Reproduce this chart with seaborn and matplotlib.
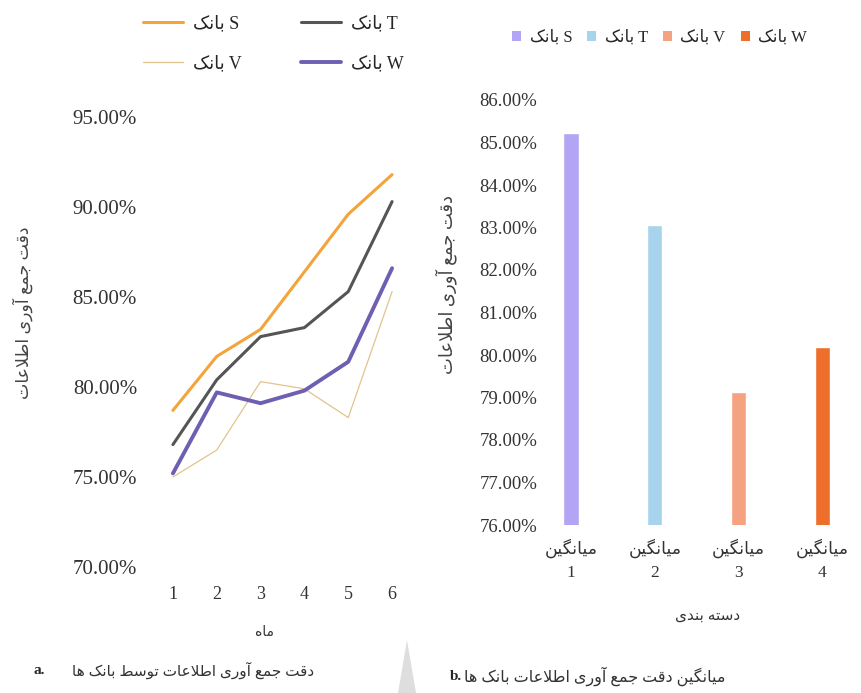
import numpy as np
import pandas as pd
import matplotlib
matplotlib.use("Agg")
import matplotlib.pyplot as plt
import seaborn as sns
from matplotlib.lines import Line2D
from matplotlib.patches import Patch, Polygon
from matplotlib.ticker import PercentFormatter

# ---- data ----
months = [1, 2, 3, 4, 5, 6]
bank_s = [78.7, 81.7, 83.2, 86.4, 89.6, 91.8]
bank_t = [76.8, 80.4, 82.8, 83.3, 85.3, 90.3]
bank_v = [75.0, 76.5, 80.3, 79.9, 78.3, 85.3]
bank_w = [75.2, 79.7, 79.1, 79.8, 81.4, 86.6]
bank_names = ["S", "T", "V", "W"]

bar_values = [85.22, 83.06, 79.14, 80.19]
bar_numbers = ["1", "2", "3", "4"]

line_colors = {"S": "#f3a43a", "T": "#555555", "V": "#e2c48a", "W": "#6f5fb3"}
line_widths = {"S": 2.2, "T": 2.2, "V": 0.9, "W": 2.8}
bar_colors = ["#b3a5f3", "#a7d4ec", "#f4a27f", "#ee6e2c"]

# ---- minimal Persian shaping (matplotlib has no complex text layout) ----
FORMS = {
    "ا": ("\uFE8D", "\uFE8E", None, None),
    "آ": ("\uFE81", "\uFE82", None, None),
    "ب": ("\uFE8F", "\uFE90", "\uFE91", "\uFE92"),
    "ت": ("\uFE95", "\uFE96", "\uFE97", "\uFE98"),
    "ج": ("\uFE9D", "\uFE9E", "\uFE9F", "\uFEA0"),
    "د": ("\uFEA9", "\uFEAA", None, None),
    "ر": ("\uFEAD", "\uFEAE", None, None),
    "س": ("\uFEB1", "\uFEB2", "\uFEB3", "\uFEB4"),
    "ط": ("\uFEC1", "\uFEC2", "\uFEC3", "\uFEC4"),
    "ع": ("\uFEC9", "\uFECA", "\uFECB", "\uFECC"),
    "ق": ("\uFED5", "\uFED6", "\uFED7", "\uFED8"),
    "ل": ("\uFEDD", "\uFEDE", "\uFEDF", "\uFEE0"),
    "م": ("\uFEE1", "\uFEE2", "\uFEE3", "\uFEE4"),
    "ن": ("\uFEE5", "\uFEE6", "\uFEE7", "\uFEE8"),
    "ه": ("\uFEE9", "\uFEEA", "\uFEEB", "\uFEEC"),
    "و": ("\uFEED", "\uFEEE", None, None),
    "ک": ("\uFB8E", "\uFB8F", "\uFB90", "\uFB91"),
    "گ": ("\uFB92", "\uFB93", "\uFB94", "\uFB95"),
    "ی": ("\uFBFC", "\uFBFD", "\uFBFE", "\uFBFF"),
}


def links_forward(c):
    return c in FORMS and FORMS[c][2] is not None


def fa(text):
    out = []
    i = 0
    n = len(text)
    while i < n:
        c = text[i]
        if c not in FORMS:
            out.append(c)
            i += 1
            continue
        link_prev = i > 0 and links_forward(text[i - 1])
        if c == "ل" and i + 1 < n and text[i + 1] == "ا":
            out.append("\uFEFC" if link_prev else "\uFEFB")
            i += 2
            continue
        link_next = links_forward(c) and i + 1 < n and text[i + 1] in FORMS
        iso, fin, ini, med = FORMS[c]
        if link_prev and link_next:
            out.append(med)
        elif link_prev:
            out.append(fin)
        elif link_next:
            out.append(ini)
        else:
            out.append(iso)
        i += 1
    return "".join(reversed(out))


bank_word = fa("بانک")
acc_label = fa("دقت جمع آوری اطلاعات")
month_label = fa("ماه")
group_label = fa("دسته بندی")
bar_ticks = [fa("میانگین") + "\n" + k for k in bar_numbers]
caption_a = fa("دقت جمع آوری اطلاعات توسط بانک ها")
caption_b = fa("میانگین دقت جمع آوری اطلاعات بانک ها")

df = pd.DataFrame({
    "month": months * 4,
    "acc": bank_s + bank_t + bank_v + bank_w,
    "bank": [b for b in bank_names for _ in months],
})

sns.set_theme(style="white")
plt.rcParams["font.family"] = ["Liberation Serif", "DejaVu Sans"]

W, H = 861, 693
fig = plt.figure(figsize=(W / 100, H / 100), dpi=100)
fig.patch.set_facecolor("white")

# ---- a. line chart ----
ax1 = fig.add_axes([151 / W, 1 - 567 / H, 263 / W, 450 / H])
sns.lineplot(data=df, x="month", y="acc", hue="bank", size="bank",
             palette=line_colors, sizes=line_widths, legend=False, ax=ax1)
ax1.set_xlim(0.5, 6.5)
ax1.set_ylim(70, 95)
ax1.set_yticks([70, 75, 80, 85, 90, 95])
ax1.set_xticks(months)
ax1.yaxis.set_major_formatter(PercentFormatter(decimals=2))
ax1.tick_params(axis="y", length=0, pad=10, labelsize=15, labelcolor="#333333")
ax1.tick_params(axis="x", length=0, pad=14, labelsize=13, labelcolor="#333333")
sns.despine(ax=ax1, left=True, bottom=True)
ax1.set_xlabel(month_label, fontsize=10, color="#333333")
ax1.set_ylabel(acc_label, fontsize=12.5, color="#444444")
ax1.xaxis.set_label_coords(0.43, -0.13)
ax1.yaxis.set_label_coords(-0.45, 0.566)

handles = [Line2D([], [], color=line_colors[b], lw=line_widths[b]) for b in bank_names]
labels = [bank_word + " " + b for b in bank_names]
order = [0, 2, 1, 3]
fig.legend([handles[i] for i in order], [labels[i] for i in order],
           ncol=2, loc="center left", bbox_to_anchor=(143 / W, 1 - 44 / H),
           frameon=False, fontsize=13, handlelength=2.2, handletextpad=0.55,
           columnspacing=3.3, labelspacing=1.3, borderpad=0, borderaxespad=0)

# ---- b. bar chart ----
ax2 = fig.add_axes([540 / W, 1 - 525 / H, 315 / W, 425 / H])
sns.barplot(x=bar_ticks, y=bar_values, hue=bar_ticks, palette=bar_colors,
            width=0.18, legend=False, ax=ax2, saturation=1)
ax2.set_ylim(76, 86)
ax2.set_xlim(-0.37, 3.39)
ax2.set_yticks(np.arange(76, 87, 1))
ax2.yaxis.set_major_formatter(PercentFormatter(decimals=2))
ax2.tick_params(axis="y", length=0, pad=2, labelsize=13.5, labelcolor="#333333")
ax2.tick_params(axis="x", length=0, pad=10, labelsize=12.5, labelcolor="#333333")
for lbl in ax2.get_xticklabels():
    lbl.set_linespacing(1.55)
sns.despine(ax=ax2, left=True, bottom=True)
ax2.set_xlabel(group_label, fontsize=11, color="#333333")
ax2.set_ylabel(acc_label, fontsize=13, color="#444444")
ax2.xaxis.set_label_coords(0.533, -0.2)
ax2.yaxis.set_label_coords(-0.265, 0.565)

bar_handles = [Patch(facecolor=c, edgecolor="none") for c in bar_colors]
fig.legend(bar_handles, labels, ncol=4, loc="center left",
           bbox_to_anchor=(512 / W, 1 - 38 / H), frameon=False, fontsize=12,
           handlelength=0.55, handleheight=0.55, handletextpad=0.5,
           columnspacing=0.9, borderpad=0, borderaxespad=0)

# ---- captions ----
fig.text(33 / W, 1 - 670 / H, "a.", fontsize=11, fontweight="bold", va="center")
fig.text(72 / W, 1 - 670 / H, caption_a, fontsize=11, va="center", color="#333333")
fig.text(450 / W, 1 - 676 / H, "b.", fontsize=11, fontweight="bold", va="center")
fig.text(464 / W, 1 - 676 / H, caption_b, fontsize=11.5, va="center", color="#333333")

# faint grey wedge between the two panels
fig.patches.append(Polygon([[398 / W, 0], [416 / W, 0], [407 / W, 1 - 640 / H]],
                           closed=True, transform=fig.transFigure,
                           facecolor="#dedede", edgecolor="none"))

fig.savefig("out.png", dpi=100)
